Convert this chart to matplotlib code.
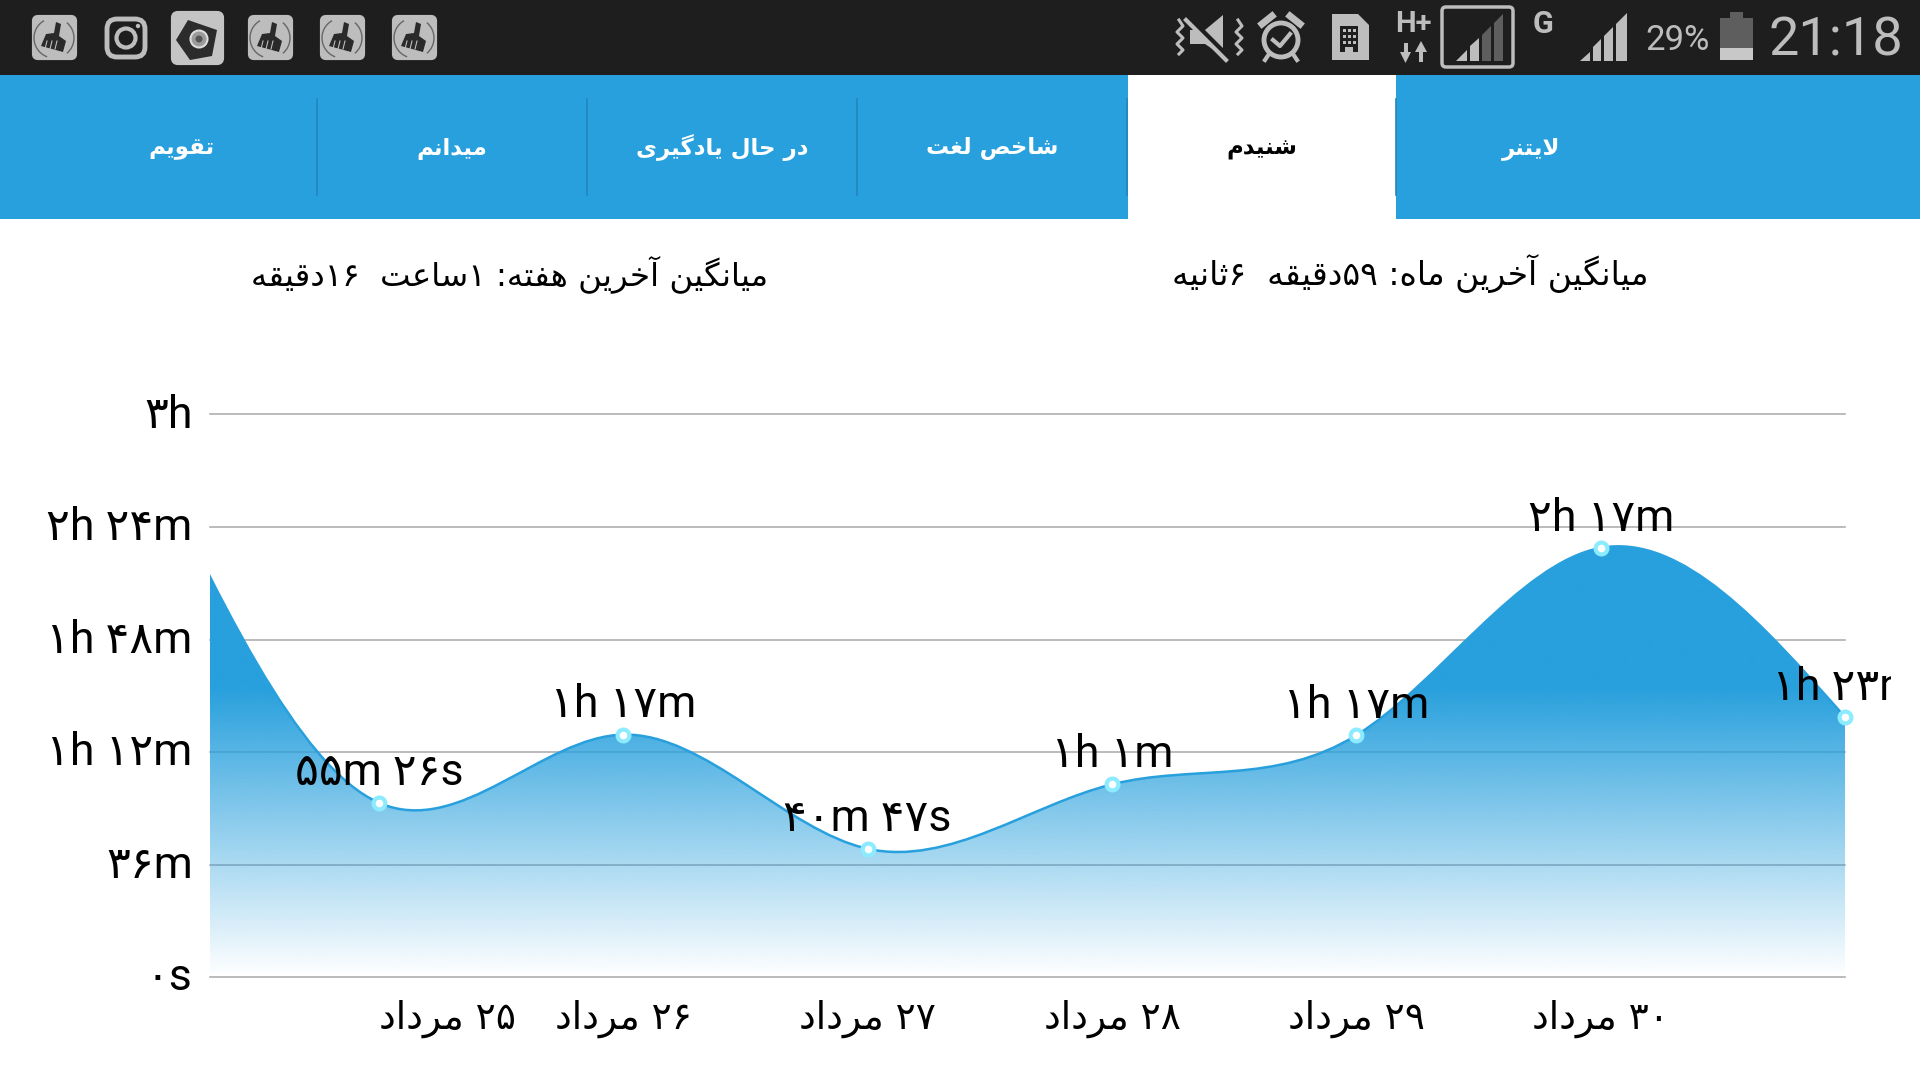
import re
import unicodedata
import numpy as np
import matplotlib
matplotlib.use("Agg")
import matplotlib.pyplot as plt
from matplotlib.patches import Rectangle, FancyBboxPatch, Polygon, Circle, PathPatch, Arc
from matplotlib.path import Path
from matplotlib.transforms import Bbox

W, H = 1920, 1080

# chart values (minutes), the first point sits left of the visible plot
minutes = [178, 55.8, 77.6, 41.1, 61.7, 77.4, 137.3, 83.2]
positions = [0, 1, 2, 3, 4, 5, 6, 7]
value_labels = ["۵۵m ۲۶s", "۱h ۱۷m", "۴۰m ۴۷s", "۱h ۱m", "۱h ۱۷m", "۲h ۱۷m", "۱h ۲۳m"]
date_ticks = [1, 2, 3, 4, 5, 6]
date_labels = ["۲۵ مرداد", "۲۶ مرداد", "۲۷ مرداد", "۲۸ مرداد", "۲۹ مرداد", "۳۰ مرداد"]
y_ticks = [0, 36, 72, 108, 144, 180]
y_labels = ["۰s", "۳۶m", "۱h ۱۲m", "۱h ۴۸m", "۲h ۲۴m", "۳h"]

tab_names = ["تقویم", "میدانم", "در حال یادگیری", "شاخص لغت", "شنیدم", "لایتنر"]
tab_centers = [182, 452, 722, 992, 1262, 1531]
tab_dividers = [317, 587, 857, 1127, 1396]
week_avg = "میانگین آخرین هفته: ۱ساعت  ۱۶دقیقه"
month_avg = "میانگین آخرین ماه: ۵۹دقیقه  ۶ثانیه"

BLUE = "#28A0DD"
BAR = "#1E1E1E"
ICON = "#BDBDBD"

# matplotlib does no arabic shaping, so pick presentation forms by hand
forms = {}
for cp in list(range(0xFB50, 0xFE00)) + list(range(0xFE70, 0xFEFF)):
    d = unicodedata.decomposition(chr(cp)).split()
    if len(d) == 2 and d[0] in ("<isolated>", "<final>", "<initial>", "<medial>"):
        forms.setdefault(chr(int(d[1], 16)), {})[d[0][1:-1]] = chr(cp)
right_only = "اآدذرزژو"


def rtl(s):
    out = []
    i = 0
    while i < len(s):
        c = s[i]
        if c not in forms:
            out.append(c)
            i += 1
            continue
        prev = s[i - 1] if i > 0 else " "
        after_join = prev in forms and prev not in right_only
        if c == "ل" and i + 1 < len(s) and s[i + 1] == "ا":
            out.append("\uFEFC" if after_join else "\uFEFB")
            i += 2
            continue
        nxt = s[i + 1] if i + 1 < len(s) else " "
        before_join = nxt in forms and c not in right_only
        if after_join and before_join:
            form = "medial"
        elif after_join:
            form = "final"
        elif before_join:
            form = "initial"
        else:
            form = "isolated"
        out.append(forms[c].get(form, c))
        i += 1
    visual = "".join(out)[::-1]
    return re.sub("[۰-۹]+", lambda m: m.group()[::-1], visual)


fig = plt.figure(figsize=(W / 100, H / 100), dpi=100, facecolor="white")

# pixel overlay for the phone chrome
bg = fig.add_axes([0, 0, 1, 1])
bg.set_xlim(0, W)
bg.set_ylim(H, 0)
bg.axis("off")

bg.add_patch(Rectangle((0, 0), W, 75, fc=BAR, ec="none"))
bg.add_patch(Rectangle((0, 75), W, 144, fc=BLUE, ec="none"))
bg.add_patch(Rectangle((1128, 75), 268, 144, fc="white", ec="none"))
for x in tab_dividers:
    bg.plot([x, x], [99, 195], color="#2285BC", lw=1.2)
for i, (name, cx) in enumerate(zip(tab_names, tab_centers)):
    bg.text(cx, 148, rtl(name), ha="center", va="center", fontsize=16.5, fontweight="bold",
            family="DejaVu Sans", color="black" if i == 4 else "white")

bg.text(510, 274, rtl(week_avg), ha="center", va="center", fontsize=23.3, family="DejaVu Sans", color="black")
bg.text(1410, 274, rtl(month_avg), ha="center", va="center", fontsize=23.8, family="DejaVu Sans", color="black")


def broom(x0):
    bg.add_patch(FancyBboxPatch((x0 + 2, 17), 41, 41, boxstyle="round,pad=0,rounding_size=4",
                                fc=ICON, ec=ICON, lw=3))
    bg.add_patch(Arc((x0 + 22, 38), 40, 40, angle=0, theta1=110, theta2=240, color="#666666", lw=1))
    bg.add_patch(Arc((x0 + 22, 38), 40, 40, angle=0, theta1=-50, theta2=50, color="#666666", lw=1))
    bg.add_patch(Polygon([(x0 + 24, 22), (x0 + 29, 24), (x0 + 27, 36), (x0 + 34, 41), (x0 + 31, 52),
                          (x0 + 9, 46), (x0 + 14, 34), (x0 + 22, 33)], fc="#2A2A2A", ec="none"))
    for k in range(3):
        bg.plot([x0 + 15 + 5 * k, x0 + 13 + 5 * k], [41, 49], color=ICON, lw=0.8)


for x0 in [32, 248, 320, 392]:
    broom(x0)

# instagram
bg.add_patch(FancyBboxPatch((107, 19), 38, 38, boxstyle="round,pad=0,rounding_size=10", fc=BAR, ec=ICON, lw=3.5))
bg.add_patch(Circle((126, 38), 9.5, fc=BAR, ec=ICON, lw=3))
bg.add_patch(Circle((138, 26), 2.2, fc=ICON, ec="none"))

# photo icon
bg.add_patch(FancyBboxPatch((173, 13), 49, 50, boxstyle="round,pad=0,rounding_size=5", fc="#C4C4C4", ec="#C4C4C4", lw=3))
bg.add_patch(Polygon([(188, 20), (217, 30), (212, 56), (190, 60), (176, 40)], fc="#2B2B2B", ec="none"))
bg.add_patch(Circle((199, 39), 8.5, fc="#9A9A9A", ec="#DDDDDD", lw=1.5))
bg.add_patch(Circle((199, 39), 3.5, fc="#555555", ec="none"))

# mute + vibrate
bg.add_patch(Polygon([(1190, 30), (1205, 30), (1223, 15), (1223, 56), (1205, 44), (1190, 44)], fc=ICON, ec="none"))
bg.plot([1188, 1228], [18, 58], color=BAR, lw=5)
bg.plot([1186, 1226], [20, 60], color=ICON, lw=3)
for xs in (1179, 1238):
    bg.plot([xs, xs + 4, xs - 2, xs + 4, xs - 2, xs + 4, xs],
            [20, 26, 32, 38, 44, 50, 54], color=ICON, lw=2.2)

# alarm
bg.add_patch(Circle((1281, 40), 17, fc=BAR, ec=ICON, lw=3.5))
bg.plot([1273, 1280, 1290], [40, 46, 34], color=ICON, lw=3)
bg.plot([1262, 1272], [24, 16], color=ICON, lw=5)
bg.plot([1290, 1300], [16, 24], color=ICON, lw=5)
bg.plot([1269, 1265], [54, 60], color=ICON, lw=3)
bg.plot([1293, 1297], [54, 60], color=ICON, lw=3)

# sim card
bg.add_patch(Polygon([(1332, 14), (1358, 14), (1369, 25), (1369, 60), (1332, 60)], fc=ICON, ec="none"))
bg.add_patch(Rectangle((1340, 26), 18, 26, fc=BAR, ec="none"))
for xd in (1343, 1348, 1353):
    for yd in (29, 35, 41):
        bg.add_patch(Rectangle((xd, yd), 3, 3, fc=ICON, ec="none"))
bg.add_patch(Rectangle((1345, 47), 8, 13, fc=ICON, ec="none"))

# network
status_font = ["Roboto", "DejaVu Sans"]
bg.text(1413, 24, "H+", ha="center", va="center", fontsize=21, fontweight="bold", family=status_font, color=ICON)
bg.add_patch(Polygon([(1405.5, 63), (1400, 52), (1411, 52)], fc=ICON, ec="none"))
bg.add_patch(Rectangle((1403.5, 43), 4, 12, fc=ICON, ec="none"))
bg.add_patch(Polygon([(1421, 41), (1415, 52), (1427, 52)], fc=ICON, ec="none"))
bg.add_patch(Rectangle((1419, 50), 4, 12, fc=ICON, ec="none"))
bg.add_patch(FancyBboxPatch((1442, 7), 71, 60, boxstyle="round,pad=0,rounding_size=4", fc=BAR, ec=ICON, lw=2.5))
bg.add_patch(Polygon([(1456, 61), (1467, 50), (1467, 61)], fc=ICON, ec="none"))
bg.add_patch(Polygon([(1470, 61), (1470, 46), (1479, 38), (1479, 61)], fc=ICON, ec="none"))
bg.add_patch(Polygon([(1482, 61), (1482, 35), (1491, 26), (1491, 61)], fc="#5E5E5E", ec="none"))
bg.add_patch(Polygon([(1494, 61), (1494, 23), (1503, 14), (1503, 61)], fc="#5E5E5E", ec="none"))
bg.text(1543, 24, "G", ha="center", va="center", fontsize=22, fontweight="bold", family=status_font, color=ICON)
bg.add_patch(Polygon([(1580, 61), (1590, 52), (1590, 61)], fc=ICON, ec="none"))
bg.add_patch(Polygon([(1593, 61), (1593, 47), (1601, 39), (1601, 61)], fc=ICON, ec="none"))
bg.add_patch(Polygon([(1604, 61), (1604, 36), (1613, 27), (1613, 61)], fc=ICON, ec="none"))
bg.add_patch(Polygon([(1616, 61), (1616, 24), (1627, 13), (1627, 61)], fc=ICON, ec="none"))

# battery + clock
bg.text(1678, 40, "29%", ha="center", va="center", fontsize=25, family=status_font, color=ICON)
bg.add_patch(Rectangle((1730, 12), 13, 6, fc="#5E5E5E", ec="none"))
bg.add_patch(Rectangle((1720, 18), 33, 30, fc="#5E5E5E", ec="none"))
bg.add_patch(Rectangle((1720, 48), 33, 12, fc="#C8C8C8", ec="none"))
bg.text(1836, 41, "21:18", ha="center", va="center", fontsize=39, family="Roboto", color=ICON)

# chart
left, right, top, bottom = 210, 1845, 414.4, 977.3
ax = fig.add_axes([left / W, 1 - bottom / H, (right - left) / W, (bottom - top) / H])
ax.patch.set_alpha(0)
step = (right - 379) / 6
xmin = 1 - (379 - left) / step
ax.set_xlim(xmin, 7)
ax.set_ylim(0, 180)
for s in ax.spines.values():
    s.set_visible(False)

ax.set_yticks(y_ticks)
ax.set_yticklabels([])
ax.set_xticks(date_ticks)
ax.set_xticklabels([rtl(d) for d in date_labels])
num_font = ["Roboto", "DejaVu Sans"]
# y labels sit a little above centre of their grid line, so place them by baseline
for v, txt in zip(y_ticks, y_labels):
    ax.annotate(txt, (0, v), xycoords=("axes fraction", "data"), xytext=(-12.5, -9.5),
                textcoords="offset points", ha="right", va="baseline", fontsize=32,
                family=num_font, color="black", annotation_clip=False)
for lab in ax.get_xticklabels():
    lab.set_fontsize(27)
    lab.set_family("DejaVu Sans")
ax.get_xticklabels()[0].set_horizontalalignment("left")
ax.tick_params(axis="both", length=0)
ax.tick_params(axis="x", pad=16)
ax.yaxis.grid(True, color="#A8A8A8", lw=1.1, zorder=1)
ax.set_axisbelow(True)
for gl in ax.yaxis.get_gridlines():
    gl.set_clip_on(False)

# natural spline tangents, used as bezier handles between the points
xs = np.array(positions, dtype=float)
ys = np.array(minutes, dtype=float)
n = len(xs)
A = np.zeros((n, n))
b = np.zeros(n)
A[0, 0], A[0, 1], b[0] = 2, 1, 3 * (ys[1] - ys[0])
A[-1, -2], A[-1, -1], b[-1] = 1, 2, 3 * (ys[-1] - ys[-2])
for i in range(1, n - 1):
    A[i, i - 1], A[i, i], A[i, i + 1] = 1, 4, 1
    b[i] = 3 * (ys[i + 1] - ys[i - 1])
tang = np.linalg.solve(A, b)

verts = [(xs[0], ys[0])]
codes = [Path.MOVETO]
for i in range(n - 1):
    verts += [(xs[i] + 1 / 3, ys[i] + tang[i] / 3),
              (xs[i + 1] - 1 / 3, ys[i + 1] - tang[i + 1] / 3),
              (xs[i + 1], ys[i + 1])]
    codes += [Path.CURVE4] * 3
curve = Path(verts, codes)
area = Path(verts + [(xs[-1], 0), (xs[0], 0), (xs[0], ys[0])],
            codes + [Path.LINETO, Path.LINETO, Path.LINETO])

# fill fades out towards the baseline, grid shows through it
rgb = matplotlib.colors.to_rgb(BLUE)
levels = np.linspace(1, 0, 400)
alpha = np.clip((levels * 180) / 92, 0, 1)
grad = np.zeros((400, 1, 4))
grad[..., :3] = rgb
grad[..., 3] = alpha[:, None]
im = ax.imshow(grad, extent=(xmin, 7, 0, 180), aspect="auto", zorder=2, interpolation="bilinear")
clip = PathPatch(area, transform=ax.transData, fc="none", ec="none")
ax.add_patch(clip)
im.set_clip_path(clip)
ax.set_xlim(xmin, 7)
ax.set_ylim(0, 180)

ax.add_patch(PathPatch(curve, fc="none", ec=BLUE, lw=1.8, zorder=3))
ax.plot(positions[1:], minutes[1:], ls="none", marker="o", ms=8.5, mfc="white", mec="#8DEBFF", mew=3,
        zorder=5, clip_on=False)

for x, y, txt in zip(positions[1:], minutes[1:], value_labels):
    t = ax.annotate(txt, (x, y), xytext=(0, 6), textcoords="offset points", ha="center", va="bottom",
                    fontsize=32, family=num_font, color="black", zorder=6, annotation_clip=False)
    # last label runs off the chart view in the screenshot
    t.set_clip_box(Bbox([[0, 0], [1891, H]]))
    t.set_clip_on(True)

fig.savefig("out.png", dpi=100, facecolor="white")
